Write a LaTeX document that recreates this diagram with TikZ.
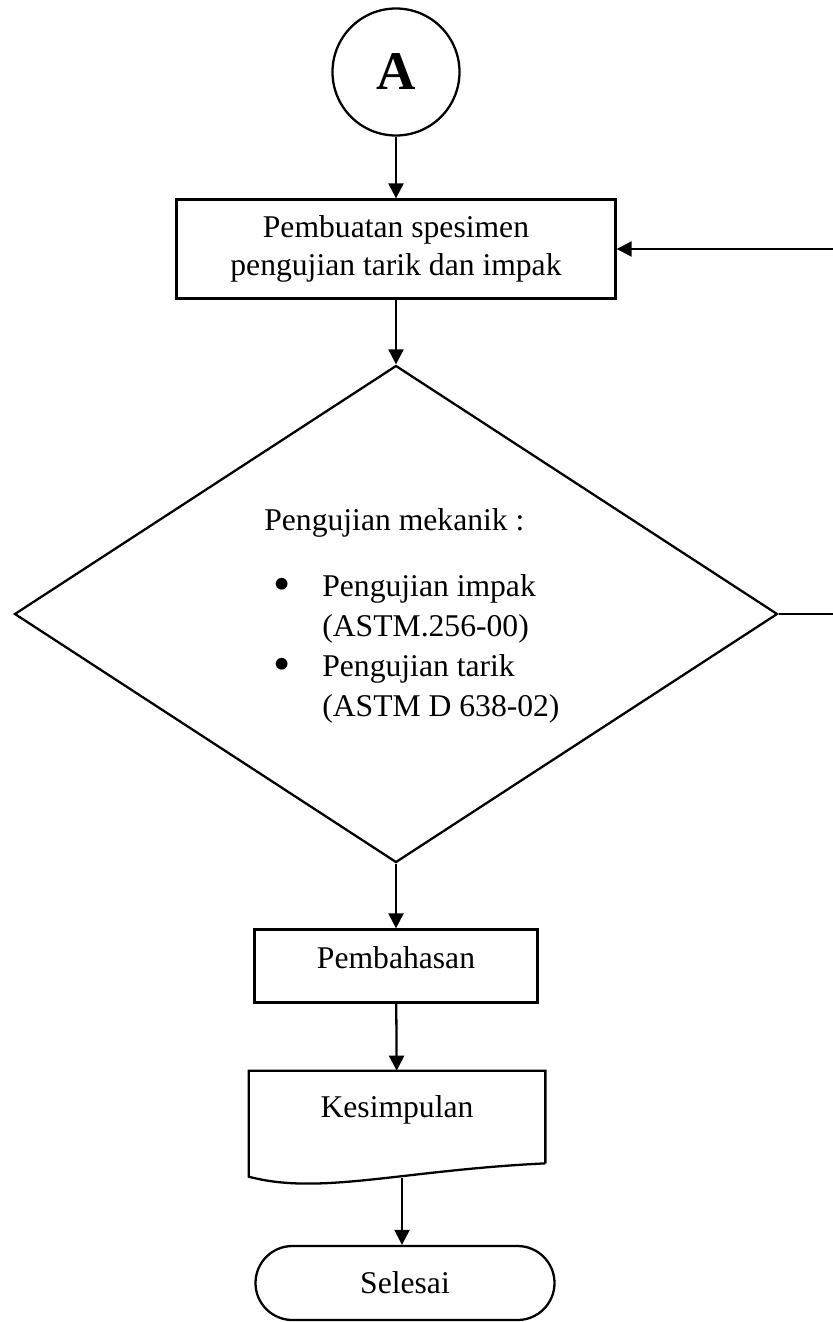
\documentclass[tikz,border=0pt]{standalone}
\usepackage{fontspec}
\setmainfont{Liberation Serif}
\usepackage{tikz}
\usetikzlibrary{
  positioning,
  arrows.meta,
  shapes.geometric,
  shapes.misc
}
\newcommand{\bigbul}{\raisebox{-2.6pt}{\fontsize{28}{28}\selectfont\textbullet}}
\tikzset{
  % Off-page connector circle
  connector/.style={
    circle,
    draw=black,
    line width=1.3pt,
    minimum size=25.4mm,
    inner sep=0pt,
    font=\fontsize{31}{36}\selectfont\bfseries
  },
  % Process box
  process/.style={
    rectangle,
    draw=black,
    line width=1.3pt,
    inner sep=0pt,
    align=center,
    font=\fontsize{18}{21.6}\selectfont
  },
  % Decision diamond
  decision/.style={
    diamond,
    draw=black,
    line width=1.3pt,
    inner sep=0pt,
    minimum width=152.6mm,
    minimum height=99.4mm
  },
  % Document (outline drawn by hand)
  docbox/.style={rectangle, inner sep=0pt, minimum width=59.2mm, minimum height=18.4mm, text depth=4.1mm, font=\fontsize{18}{21.6}\selectfont},
  % Terminator
  terminator/.style={rounded rectangle, draw=black, line width=1.3pt, inner sep=0pt, minimum width=59.8mm, minimum height=14.8mm, font=\fontsize{18}{21.6}\selectfont},
  % Text block in the diamond
  btext/.style={
    align=left,
    inner sep=0pt,
    font=\fontsize{18}{22.8}\selectfont
  },
  % Plain edge
  edge/.style={
    draw=black,
    line width=1.3pt
  },
  % Directed edge
  dedge/.style={
    edge,
    -{Triangle[length=3mm, width=3mm]}
  }
}

\begin{document}
\begin{tikzpicture}[x=0.2mm, y=-0.2mm]
  \useasboundingbox (0,0) rectangle (833,1322);
  \clip (0,0) rectangle (833,1322);
  % Nodes
  \node[connector] (A) at (396,72) {A};
  \node[process, minimum width=87.8mm, minimum height=19.8mm] (buat) at (396,249) {Pembuatan spesimen\\pengujian tarik dan impak};
  \node[decision] (uji) at (396,614) {};
  \node[btext, anchor=west] (ujitext) at (264,616) {Pengujian mekanik :\\[5mm]
    \makebox[11.6mm][l]{\hspace{1.9mm}\bigbul}Pengujian impak\\
    \hspace*{11.6mm}(ASTM.256-00)\\
    \makebox[11.6mm][l]{\hspace{1.9mm}\bigbul}Pengujian tarik\\
    \hspace*{11.6mm}(ASTM D 638-02)};
  \node[process, minimum width=56.6mm, minimum height=14.6mm, text depth=3.2mm] (bahas) at (396,966) {Pembahasan};
  \node[docbox] (kes) at (397,1117) {Kesimpulan};
  \node[terminator] (selesai) at (405,1283) {Selesai};
  % Document outline with wavy bottom
  \draw[edge] (kes.south east) -- (kes.north east) -- (kes.north west) -- ++(0,106)
    .. controls +(71,19) and +(-145,7) .. (kes.south east);
  \coordinate (kesout) at (402,1178);
  % Connectors
  \draw[dedge] (A) -- (buat);
  \draw[dedge] (buat) -- (uji);
  \draw[dedge] (uji) -- (bahas);
  \draw[dedge] (bahas) -- (kes);
  \draw[dedge] (kesout) -- (kesout |- selesai.north);
  % Loop back (runs off the page)
  \draw[dedge] (uji.east) -- ++(80,0) |- (buat.east);
\end{tikzpicture}
\end{document}
